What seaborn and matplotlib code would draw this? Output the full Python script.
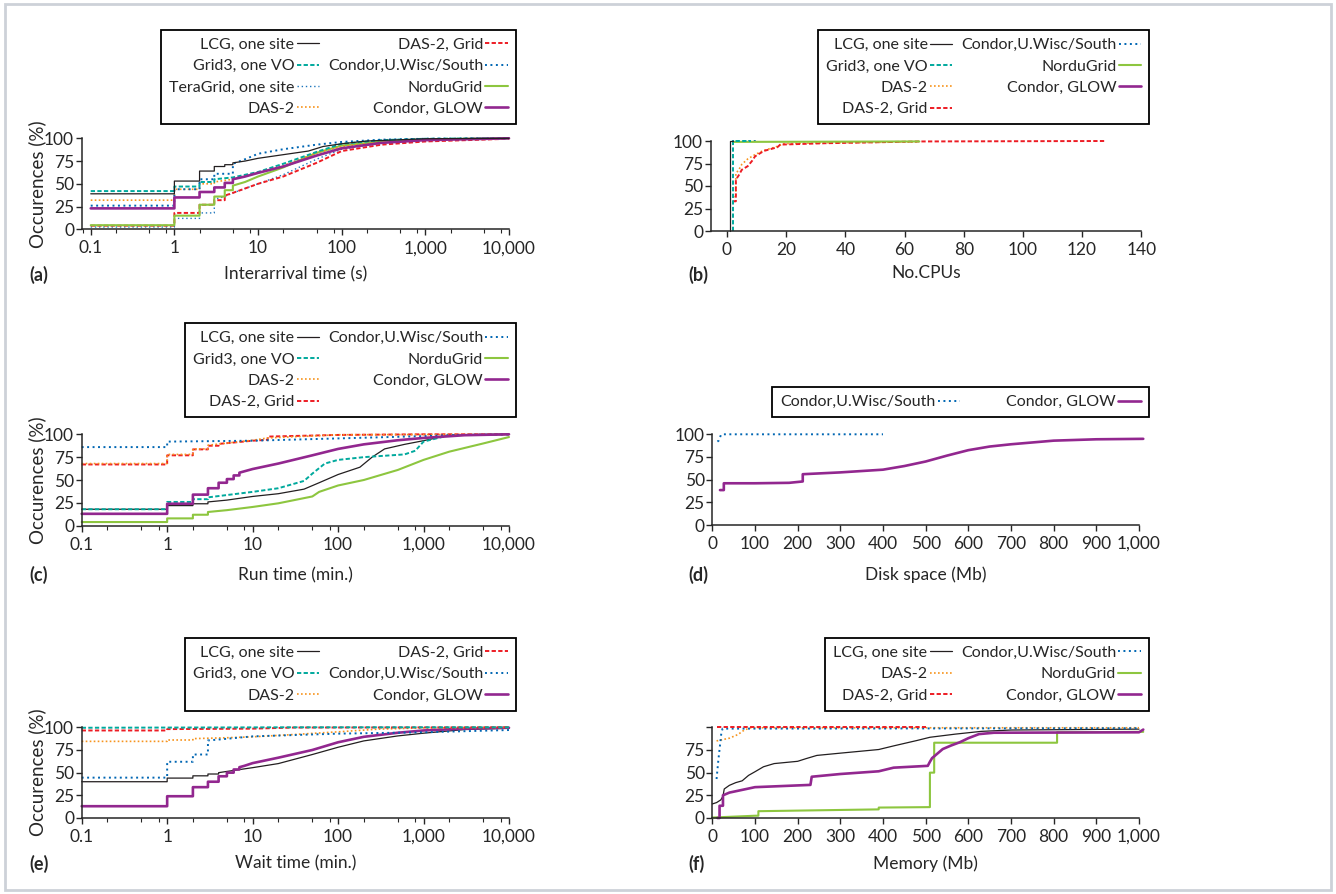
import numpy as np
import pandas as pd
import seaborn as sns
import matplotlib.pyplot as plt
from matplotlib.lines import Line2D
from matplotlib.patches import Rectangle
from matplotlib.ticker import FixedLocator, LogLocator, NullFormatter

# -----------------------------
# CDF points: (x, % of occurences)
# -----------------------------
# (a) interarrival time (s)
a_lcg = [(0.1, 39), (1, 39), (1, 53), (2, 53), (2, 64), (3, 64), (3, 69), (4, 69), (4, 71), (5, 71), (5, 73),
         (7, 75), (10, 78), (20, 82), (40, 86), (60, 91), (100, 94), (200, 97), (1000, 99.5), (10000, 100)]
a_grid3 = [(0.1, 42), (1, 42), (1, 47), (2, 47), (2, 52), (3, 52), (3, 55), (5, 57), (10, 63), (20, 72),
           (50, 85), (100, 94), (300, 98), (1000, 99.5), (10000, 100)]
a_teragrid = [(0.1, 2.5), (1, 2.5), (1, 12), (2, 12), (2, 18), (3, 18), (3, 33), (4, 36), (5, 40), (10, 50),
              (20, 60), (50, 77), (100, 88), (300, 95), (1000, 98.5), (10000, 100)]
a_das2 = [(0.1, 32), (1, 32), (1, 44), (2, 44), (2, 50), (3, 50), (3, 52), (5, 55), (10, 62), (20, 70),
          (50, 84), (100, 91), (300, 96), (1000, 98.5), (10000, 100)]
a_das2grid = [(0.1, 4), (1, 4), (1, 18), (2, 18), (2, 27), (3, 27), (3, 32), (4, 32), (4, 37), (5, 40),
              (10, 50), (20, 58), (50, 73), (100, 86), (300, 93), (1000, 96.5), (10000, 99.5)]
a_condoruw = [(0.1, 26), (1, 26), (1, 44), (2, 44), (2, 55), (3, 55), (3, 61), (5, 61), (5, 72), (7, 77),
              (10, 83), (20, 88), (50, 93), (100, 96), (300, 98.5), (1000, 99.5), (10000, 100)]
a_nordugrid = [(0.1, 4.5), (1, 4.5), (1, 15), (2, 15), (2, 27), (3, 27), (3, 36), (4, 36), (4, 43), (5, 43),
               (5, 48), (7, 52), (10, 58), (20, 68), (50, 84), (100, 92), (300, 96.5), (1000, 99), (10000, 100)]
a_glow = [(0.1, 23), (1, 23), (1, 35), (2, 35), (2, 41), (3, 41), (3, 46), (4, 46), (4, 51), (5, 51),
          (5, 55), (7, 58), (10, 62), (20, 69), (50, 81), (100, 89), (300, 95), (1000, 98), (10000, 100)]

# (b) number of CPUs
b_lcg = [(1, 0), (1, 100), (2, 100)]
b_grid3 = [(2, 0), (2, 100), (8, 100)]
b_das2 = [(2, 38), (3, 38), (3, 64), (4, 68), (5, 74), (7, 80), (9, 84), (12, 89), (17, 94), (19, 97),
          (33, 98), (65, 99)]
b_das2grid = [(2, 33), (3, 33), (3, 57), (4, 62), (5, 68), (7, 72), (8.5, 78), (9.5, 83), (12.5, 89),
              (17, 93), (18, 96), (33, 97.5), (65, 99.5), (128, 100)]
b_condoruw = [(2, 99), (2, 100), (10, 100)]
b_nordugrid = [(2, 99), (65, 99.5)]
b_glow = []

# (c) run time (min.)
c_lcg = [(0.1, 18), (1, 18), (1, 22), (2, 22), (2, 24), (3, 24), (3, 26), (5, 28), (10, 32), (20, 35),
         (40, 40), (60, 47), (100, 56), (180, 64), (250, 75), (350, 84), (600, 89), (1000, 93),
         (2000, 99), (10000, 100)]
c_grid3 = [(0.1, 18), (1, 18), (1, 26), (2, 26), (2, 29), (3, 29), (3, 31), (10, 37), (20, 41), (40, 49),
           (50, 57), (70, 68), (100, 72), (200, 75), (600, 78), (800, 82), (1000, 92), (2000, 99),
           (10000, 100)]
c_das2 = [(0.1, 68), (1, 68), (1, 78), (2, 78), (2, 84), (3, 84), (3, 88), (10, 93.5), (15, 96),
          (100, 99.5), (10000, 100)]
c_das2grid = [(0.1, 67), (1, 67), (1, 77), (2, 77), (2, 83.5), (3, 83.5), (3, 87.5), (4, 87.5), (4, 89.5),
              (6, 91), (10, 93), (15, 94), (15, 97.5), (100, 99.3), (1000, 100), (10000, 100)]
c_condoruw = [(0.1, 86), (1, 86), (1, 92), (10, 93), (100, 95.5), (1000, 98), (2000, 99), (10000, 100)]
c_nordugrid = [(0.1, 4), (1, 4), (1, 8), (2, 8), (2, 12), (3, 12), (3, 15), (5, 17), (10, 20.5),
               (20, 24.5), (50, 32), (60, 37), (100, 44), (200, 50), (500, 61), (1000, 72), (2000, 81),
               (5000, 90), (10000, 97)]
c_glow = [(0.1, 13), (1, 13), (1, 24), (2, 24), (2, 34), (3, 34), (3, 41), (4, 41), (4, 47), (5, 47),
          (5, 51), (6, 51), (6, 55), (7, 55), (7, 58), (10, 62), (20, 68), (50, 77), (100, 84),
          (200, 89), (500, 93.5), (1000, 96), (3000, 99), (10000, 100)]

# (d) disk space (Mb)
d_condoruw = [(12, 92), (15, 93), (20, 99), (22, 100), (400, 100)]
d_glow = [(18, 38.5), (27, 38.5), (27, 46), (100, 46), (180, 46.5), (212, 48), (212, 56), (300, 58),
          (400, 61), (450, 65), (500, 70), (550, 76.5), (600, 82.5), (650, 86.5), (700, 89), (800, 93),
          (900, 94.5), (1010, 95)]

# (e) wait time (min.)
e_lcg = [(0.1, 40), (1, 40), (1, 44), (2, 44), (2, 46.5), (3, 46.5), (3, 48.5), (4, 48.5), (4, 50),
         (10, 55.5), (20, 60), (50, 70), (100, 78), (200, 85), (500, 90.5), (1000, 93.5), (3000, 97.5),
         (10000, 99)]
e_grid3 = [(0.1, 99.5), (25, 100), (10000, 100)]
e_das2 = [(0.1, 84.5), (1, 84.5), (1, 86), (2, 86), (2, 87.5), (5, 88.5), (10, 89.5), (30, 92), (100, 95),
          (300, 98), (1000, 99.3), (10000, 100)]
e_das2grid = [(0.1, 96.5), (1, 96.5), (1, 98), (10, 98.5), (30, 99.7), (10000, 100)]
e_condoruw = [(0.1, 44.5), (1, 44.5), (1, 62), (2, 62), (2, 70), (3, 70), (3, 85.5), (4, 86.5), (10, 90),
              (100, 93), (1000, 94.5), (10000, 97)]
e_glow = [(0.1, 13), (1, 13), (1, 24), (2, 24), (2, 34), (3, 34), (3, 40), (4, 40), (4, 46), (5, 46),
          (5, 50), (6, 50), (6, 53.5), (7, 53.5), (7, 56), (8, 57.5), (10, 60.5), (20, 66.5), (50, 75),
          (100, 83.5), (200, 89.5), (500, 94), (1000, 96.5), (3000, 98.5), (10000, 99.5)]

# (f) memory (Mb)
f_lcg = [(0, 15.5), (10, 17), (20, 20), (25, 24), (28, 32), (40, 36), (55, 39), (70, 41), (85, 47),
         (100, 51), (120, 56.5), (145, 60), (200, 62.5), (220, 65.5), (245, 69), (300, 71.5), (390, 75.5),
         (425, 79.5), (480, 85.5), (510, 89), (570, 92.5), (630, 95.5), (700, 97), (1000, 98)]
f_das2 = [(10, 85), (20, 86), (40, 88), (60, 92), (75, 97), (90, 99.5), (1000, 99.5)]
f_das2grid = [(12, 100), (500, 100)]
f_condoruw = [(10, 43), (14, 63), (18, 80), (21, 93), (24, 98.5), (1000, 99)]
f_nordugrid = [(0, 0.5), (100, 2.5), (108, 2.5), (108, 7.5), (390, 9.5), (390, 11.5), (510, 12), (510, 50),
               (520, 50), (520, 83), (808, 83), (808, 94.5), (1010, 95)]
f_glow = [(12, 0), (17, 0), (17, 13.5), (25, 13.5), (25, 25), (40, 28), (80, 32), (100, 34), (230, 36.5),
          (233, 45.5), (300, 48.5), (390, 51.5), (425, 55.5), (505, 57.5), (510, 62), (515, 66), (525, 70),
          (540, 76), (560, 80), (580, 83.5), (600, 88), (625, 92.5), (660, 94), (1000, 94.5), (1010, 97.5)]

log_ticks = [0.1, 1, 10, 100, 1000, 10000]
log_labels = ["0.1", "1", "10", "100", "1,000", "10,000"]
mb_ticks = list(range(0, 1001, 100))
mb_labels = [f"{v:,}" for v in mb_ticks]
cpu_ticks = list(range(0, 141, 20))
pct_ticks = [0, 25, 50, 75, 100]

# line look per site
STYLE = {
    "LCG, one site": dict(color="#231f20", lw=0.9, ls="-"),
    "Grid3, one VO": dict(color="#00a99d", lw=1.4, ls=(0, (2.2, 1.2))),
    "TeraGrid, one site": dict(color="#1c75bc", lw=1.0, ls=(0, (1, 2))),
    "DAS-2": dict(color="#f7941d", lw=1.2, ls=(0, (1, 1.4))),
    "DAS-2, Grid": dict(color="#ed1c24", lw=1.4, ls=(0, (2.2, 1.2))),
    "Condor,U.Wisc/South": dict(color="#0066b3", lw=1.4, ls=(0, (1, 1.8))),
    "NorduGrid": dict(color="#8dc63f", lw=1.5, ls="-"),
    "Condor, GLOW": dict(color="#92278f", lw=1.9, ls="-"),
}

sns.set_style("ticks")
plt.rcParams["font.family"] = ["Lato", "DejaVu Sans"]
plt.rcParams["axes.linewidth"] = 1.1

fig = plt.figure(figsize=(13.36, 8.94), dpi=100)
fig.patches.append(Rectangle((0.004, 0.004), 0.992, 0.991, transform=fig.transFigure, fill=False,
                             edgecolor="#cdd1d8", linewidth=2))

W = 1336.0
H = 894.0


def make_ax(x0, x1, ytop, ybot):
    return fig.add_axes([x0 / W, 1 - ybot / H, (x1 - x0) / W, (ybot - ytop) / H])


def draw(ax, series, order, legend_anchor, colsp=0.55):
    for name, pts in series:
        if not pts:
            continue
        df = pd.DataFrame(pts, columns=["x", "y"])
        st = STYLE[name]
        sns.lineplot(data=df, x="x", y="y", ax=ax, estimator=None, sort=False, legend=False,
                     color=st["color"], linewidth=st["lw"], linestyle=st["ls"], clip_on=False)
    handles = [Line2D([], [], color=STYLE[n]["color"], lw=STYLE[n]["lw"], ls=STYLE[n]["ls"]) for n in order]
    leg = ax.legend(handles, order, ncol=2, loc="lower right", bbox_to_anchor=legend_anchor,
                    markerfirst=False, frameon=True, fancybox=False, framealpha=1, edgecolor="black",
                    fontsize=11.5, handlelength=1.4, handletextpad=0.15, columnspacing=colsp,
                    labelspacing=0.45, borderpad=0.5, borderaxespad=0)
    leg.get_frame().set_linewidth(1.3)


def style_ax(ax, xlabel, tag, xlab_y, tag_x, tag_y, ylabel=True, show100=True):
    sns.despine(ax=ax)
    ax.set_ylim(0, 100)
    ax.set_yticks(pct_ticks)
    ax.set_yticklabels([str(v) if (v < 100 or show100) else "" for v in pct_ticks])
    ax.tick_params(axis="y", direction="out", length=4, width=1, pad=1.5, labelsize=12.5)
    ax.tick_params(axis="x", which="major", direction="out", length=4, width=1, pad=4, labelsize=12.5)
    ax.tick_params(axis="x", which="minor", direction="out", length=3, width=0.8)
    ax.set_xlabel(xlabel, fontsize=12.5, va="center")
    ax.xaxis.set_label_coords(0.5, xlab_y)
    if ylabel:
        ax.set_ylabel("Occurences (%)", fontsize=13.5, va="center")
        ax.yaxis.set_label_coords(-0.104, 0.5)
    else:
        ax.set_ylabel("")
    ax.text(tag_x, tag_y, tag, transform=ax.transAxes, fontsize=13, fontweight="bold",
            ha="left", va="center")


def log_x(ax, left):
    ax.set_xscale("log")
    ax.set_xlim(left, 10000)
    ax.xaxis.set_major_locator(FixedLocator(log_ticks))
    ax.set_xticklabels(log_labels)
    ax.xaxis.set_minor_locator(LogLocator(base=10, subs=(2, 5, 8)))
    ax.xaxis.set_minor_formatter(NullFormatter())


# (a)
ax = make_ax(81.7, 509, 138.3, 229.3)
log_x(ax, 0.078)
draw(ax, [("TeraGrid, one site", a_teragrid), ("DAS-2, Grid", a_das2grid), ("NorduGrid", a_nordugrid),
          ("DAS-2", a_das2), ("Grid3, one VO", a_grid3), ("Condor,U.Wisc/South", a_condoruw),
          ("Condor, GLOW", a_glow), ("LCG, one site", a_lcg)],
     ["LCG, one site", "Grid3, one VO", "TeraGrid, one site", "DAS-2",
      "DAS-2, Grid", "Condor,U.Wisc/South", "NorduGrid", "Condor, GLOW"], (1.016, 1.157))
log_x(ax, 0.078)
style_ax(ax, "Interarrival time (s)", "(a)", -0.49, -0.123, -0.50)

# (b)
ax = make_ax(710.7, 1141.3, 141, 231)
draw(ax, [("Condor, GLOW", b_glow), ("DAS-2", b_das2), ("DAS-2, Grid", b_das2grid),
          ("Condor,U.Wisc/South", b_condoruw), ("NorduGrid", b_nordugrid),
          ("Grid3, one VO", b_grid3), ("LCG, one site", b_lcg)],
     ["LCG, one site", "Grid3, one VO", "DAS-2", "DAS-2, Grid",
      "Condor,U.Wisc/South", "NorduGrid", "Condor, GLOW"], (1.018, 1.185))
ax.set_xlim(-5.5, 140)
ax.set_xticks(cpu_ticks)
style_ax(ax, "No.CPUs", "(b)", -0.47, -0.051, -0.49, ylabel=False)

# (c)
ax = make_ax(81.7, 509, 434.3, 525.7)
log_x(ax, 0.1)
draw(ax, [("NorduGrid", c_nordugrid), ("LCG, one site", c_lcg), ("Grid3, one VO", c_grid3),
          ("DAS-2, Grid", c_das2grid), ("DAS-2", c_das2), ("Condor,U.Wisc/South", c_condoruw),
          ("Condor, GLOW", c_glow)],
     ["LCG, one site", "Grid3, one VO", "DAS-2", "DAS-2, Grid",
      "Condor,U.Wisc/South", "NorduGrid", "Condor, GLOW"], (1.016, 1.186))
log_x(ax, 0.1)
style_ax(ax, "Run time (min.)", "(c)", -0.54, -0.123, -0.54)

# (d)
ax = make_ax(712.3, 1139, 434.3, 525)
draw(ax, [("Condor,U.Wisc/South", d_condoruw), ("Condor, GLOW", d_glow)],
     ["Condor,U.Wisc/South", "Condor, GLOW"], (1.023, 1.1875), colsp=2.9)
ax.set_xlim(0, 1000)
ax.set_xticks(mb_ticks)
ax.set_xticklabels(mb_labels)
style_ax(ax, "Disk space (Mb)", "(d)", -0.55, -0.055, -0.55, ylabel=False)

# (e)
ax = make_ax(81.7, 509, 727.3, 818)
log_x(ax, 0.1)
draw(ax, [("LCG, one site", e_lcg), ("Condor, GLOW", e_glow), ("DAS-2", e_das2),
          ("Condor,U.Wisc/South", e_condoruw), ("DAS-2, Grid", e_das2grid), ("Grid3, one VO", e_grid3)],
     ["LCG, one site", "Grid3, one VO", "DAS-2",
      "DAS-2, Grid", "Condor,U.Wisc/South", "Condor, GLOW"], (1.016, 1.184))
log_x(ax, 0.1)
style_ax(ax, "Wait time (min.)", "(e)", -0.5, -0.123, -0.507)

# (f)
ax = make_ax(712.3, 1139, 727.3, 818)
draw(ax, [("LCG, one site", f_lcg), ("NorduGrid", f_nordugrid), ("Condor, GLOW", f_glow),
          ("DAS-2", f_das2), ("Condor,U.Wisc/South", f_condoruw), ("DAS-2, Grid", f_das2grid)],
     ["LCG, one site", "DAS-2", "DAS-2, Grid",
      "Condor,U.Wisc/South", "NorduGrid", "Condor, GLOW"], (1.023, 1.184))
ax.set_xlim(0, 1000)
ax.set_xticks(mb_ticks)
ax.set_xticklabels(mb_labels)
style_ax(ax, "Memory (Mb)", "(f)", -0.5, -0.055, -0.507, ylabel=False, show100=False)

fig.savefig("out.png", dpi=100)
